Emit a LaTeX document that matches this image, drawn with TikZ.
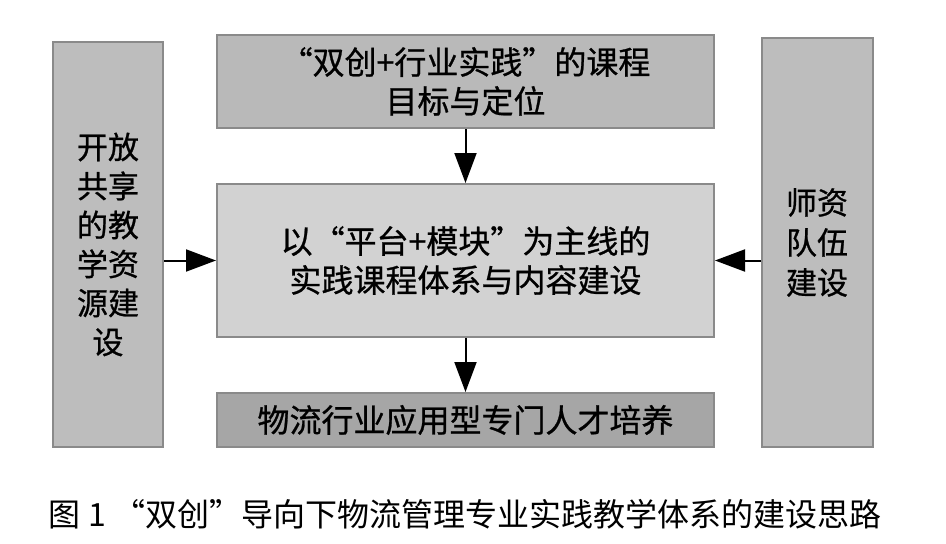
\documentclass[tikz,border=0pt]{standalone}
\usepackage{fontspec}
\setmainfont{Noto Sans CJK SC}
\newfontfamily\boxfont[FakeBold=0.8]{Noto Sans CJK SC}
\usetikzlibrary{arrows.meta}
\definecolor{bordergray}{HTML}{8A8A8A}
\definecolor{topfill}{HTML}{B9B9B9}
\definecolor{mainfill}{HTML}{D2D2D2}
\definecolor{botfill}{HTML}{A6A6A6}
\definecolor{sidefill}{HTML}{BDBDBD}
\tikzset{
  boxstyle/.style={draw=bordergray, line width=2pt, inner sep=0pt, align=center,
    font=\boxfont\fontsize{32pt}{39pt}\selectfont, text=black},
  sidestyle/.style={boxstyle, fill=sidefill, font=\boxfont\fontsize{31pt}{39pt}\selectfont},
  arr/.style={line width=2pt, -{Triangle[length=30pt,width=22pt]}},
}
\begin{document}
\begin{tikzpicture}[x=1pt,y=-1pt]
\useasboundingbox[fill=white] (0,0) rectangle (946,544);
\node[boxstyle, fill=topfill, minimum width=497pt, minimum height=93pt] (top) at (465.5,81.5) {“双创+行业实践”的课程\\目标与定位};
\node[boxstyle, fill=mainfill, minimum width=497pt, minimum height=153pt] (main) at (465.5,260.5) {以“平台+模块”为主线的\\实践课程体系与内容建设};
\node[boxstyle, fill=botfill, minimum width=497pt, minimum height=54pt] (bot) at (465.5,420) {物流行业应用型专门人才培养};
\node[sidestyle, minimum width=110pt, minimum height=405pt] (left) at (108,244.5) {开放\\共享\\的教\\学资\\源建\\设};
\node[sidestyle, minimum width=111pt, minimum height=409pt, font=\boxfont\fontsize{31pt}{40pt}\selectfont] (right) at (817,242.5) {师资\\队伍\\建设};
\draw[arr] (top) -- (main);
\draw[arr] (main) -- (bot);
\draw[arr] (left.east |- main) -- (main.west);
\draw[arr] (right.west |- main) -- (main.east);
\node[font=\fontsize{32pt}{36pt}\selectfont, inner sep=0pt] (cap) at (465,514) {图 1 “双创”导向下物流管理专业实践教学体系的建设思路};
\end{tikzpicture}
\end{document}
